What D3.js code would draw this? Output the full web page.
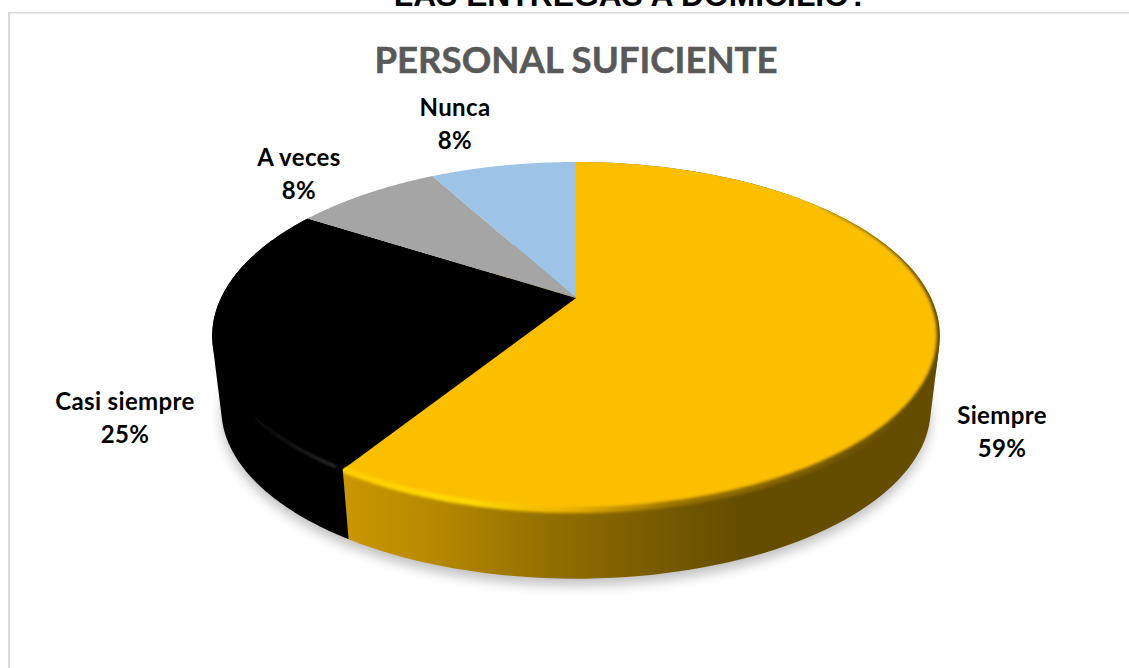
<!DOCTYPE html>
<html>
<head>
<meta charset="utf-8">
<script src="https://cdn.jsdelivr.net/npm/d3@7/dist/d3.min.js"></script>
<style>
  html, body { margin: 0; background: #fff; }
  svg { display: block; }
</style>
</head>
<body>
<svg id="chart" width="1129" height="668"></svg>
<script>
// Survey answers and their shares
const categories = ["Siempre", "Casi siempre", "A veces", "Nunca"];
const shares = [59, 25, 8, 8];
const sliceColors = ["#fcbf00", "#000000", "#a5a5a5", "#9dc3e6"];
const chartTitle = "PERSONAL SUFICIENTE";
const clippedHeading = "LAS ENTREGAS A DOMICILIO?";

const svg = d3.select("#chart");
const defs = svg.append("defs");

// Tilted-disc projection: unit circle point -> screen offset from the pie centre
const pivot = { x: 576, y: 298 };
const tilt = 0.2184, spreadX = 355, spreadY = 165.7;
function project(angle) {
  const ux = Math.sin(angle), uy = -Math.cos(angle);
  const w = 1 - tilt * uy;
  return [spreadX * ux / w, spreadY * uy / w];
}
const topEdge = a => { const p = project(a); return [pivot.x + p[0], pivot.y + p[1]]; };
const baseK = 0.975, baseY = 372;
const baseEdge = a => { const p = project(a); return [pivot.x + baseK * p[0], baseY + baseK * p[1]]; };

const arcs = d3.pie().sort(null).value(d => d)(shares);
const line = d3.line();
const samples = (a0, a1, n = 120) => d3.range(0, n + 1).map(i => a0 + (a1 - a0) * i / n);
const topFace = d => line([[pivot.x, pivot.y], ...samples(d.startAngle, d.endAngle).map(topEdge)]) + "Z";
// The wall is the hull of both edges; the part behind the disc is hidden by the top faces
const sideWall = d => {
  const s = samples(d.startAngle, d.endAngle);
  return line(d3.polygonHull([...s.map(topEdge), ...s.map(baseEdge)])) + "Z";
};

// Filters
const blur = (id, dev) => defs.append("filter").attr("id", id)
  .attr("x", "-10%").attr("y", "-10%").attr("width", "120%").attr("height", "120%")
  .append("feGaussianBlur").attr("stdDeviation", dev);
blur("soft-shadow", 6);
blur("soft-rim", 1.6);

// Gradients for the gold wall and its bevel
function hGradient(id, x1, x2, stops) {
  const g = defs.append("linearGradient").attr("id", id)
    .attr("gradientUnits", "userSpaceOnUse")
    .attr("x1", x1).attr("x2", x2).attr("y1", 0).attr("y2", 0);
  stops.forEach(s => g.append("stop").attr("offset", s[0]).attr("stop-color", s[1]));
}
hGradient("gold-wall", 350, 740, [[0, "#c99600"], [0.2, "#b88a00"], [0.5, "#937000"], [0.8, "#775a00"], [1, "#654d00"]]);
hGradient("gold-rim", 350, 940, [[0, "#ffcf00"], [0.2, "#ffdc00"], [0.36, "#f0b400"], [0.55, "#9a7400"], [1, "#5e4800"]]);
const goldClip = defs.append("clipPath").attr("id", "gold-clip");
goldClip.append("path").attr("d", topFace(arcs[0]));
goldClip.append("path").attr("d", sideWall(arcs[0]));

// Frame of the chart area
svg.append("rect").attr("x", 8).attr("y", 12).attr("width", 2).attr("height", 656).attr("fill", "#d9d9d9");
svg.append("rect").attr("x", 8).attr("y", 12).attr("width", 1121).attr("height", 1.5).attr("fill", "#d9d9d9");

// Heading cut off by the top of the frame
svg.append("text").attr("x", 631).attr("y", 6).attr("text-anchor", "middle")
  .attr("font-family", "'Liberation Sans', Arial, sans-serif").attr("font-weight", 700).attr("font-size", 31.8)
  .attr("fill", "#000").text(clippedHeading);

// Title
svg.append("text").attr("x", 576).attr("y", 73).attr("text-anchor", "middle")
  .attr("font-family", "Lato, sans-serif").attr("font-weight", 700).attr("font-size", 36.6)
  .attr("stroke", "#595959").attr("stroke-width", 0.5)
  .attr("fill", "#595959").text(chartTitle);

// Ground shadow under the disc
svg.append("path")
  .attr("d", line(samples(0, 2 * Math.PI).map(a => { const p = baseEdge(a); return [p[0], p[1] + 7]; })) + "Z")
  .attr("fill", "#000").attr("opacity", 0.24).attr("filter", "url(#soft-shadow)");

// Side walls, then top faces
svg.append("g").selectAll("path").data(arcs.slice(0, 2)).join("path")
  .attr("d", sideWall)
  .attr("fill", (d, i) => i === 0 ? "url(#gold-wall)" : sliceColors[i]);

svg.append("g").selectAll("path").data(arcs).join("path")
  .attr("d", topFace)
  .attr("fill", (d, i) => sliceColors[i]);

// Bevel along the gold rim: it swells from nothing on the far side to full width at the front
const bevelStart = 0.9, bevelFull = 1.75;
const bevelAngles = samples(bevelStart, arcs[0].endAngle, 90);
svg.append("g").attr("clip-path", "url(#gold-clip)")
  .append("g").attr("filter", "url(#soft-rim)")
  .selectAll("path").data(d3.pairs(bevelAngles)).join("path")
  .attr("d", d => line(d.map(topEdge)))
  .attr("fill", "none").attr("stroke", "url(#gold-rim)").attr("stroke-linecap", "round")
  .attr("stroke-width", d => 1 + 5 * Math.min(1, (d[0] - bevelStart) / (bevelFull - bevelStart)));

// Faint glint on the dark slice's front rim
const glint = defs.append("linearGradient").attr("id", "dark-glint")
  .attr("gradientUnits", "userSpaceOnUse").attr("x1", 245).attr("x2", 345).attr("y1", 0).attr("y2", 0);
glint.append("stop").attr("offset", 0).attr("stop-color", "#000");
glint.append("stop").attr("offset", 1).attr("stop-color", "#666");
svg.append("path").attr("d", line(samples(arcs[1].startAngle + 0.02, arcs[1].startAngle + 0.62).map(topEdge)))
  .attr("fill", "none").attr("stroke", "url(#dark-glint)").attr("stroke-width", 1.5)
  .attr("filter", "url(#soft-rim)");

// Data labels: category on one line, share below
const labelAnchors = [[1002, 424], [125, 410], [299, 166], [455, 116]];
const labels = svg.append("g").attr("font-family", "Lato, sans-serif").attr("font-weight", 700)
  .attr("font-size", 24).attr("letter-spacing", 0.35).attr("fill", "#000").attr("text-anchor", "middle");
categories.forEach((name, i) => {
  const [lx, ly] = labelAnchors[i];
  labels.append("text").attr("x", lx).attr("y", ly).text(name);
  labels.append("text").attr("x", lx).attr("y", ly + 33).text(shares[i] + "%");
});
</script>
</body>
</html>
